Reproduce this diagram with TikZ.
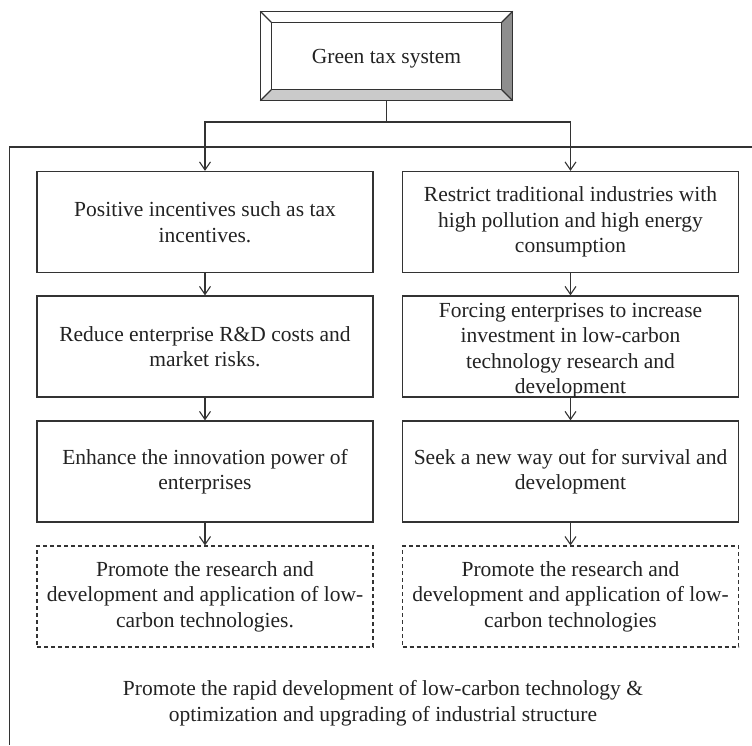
\documentclass[tikz,border=0pt]{standalone}
\usepackage{fontspec}
\setmainfont{Liberation Serif}
\usetikzlibrary{arrows.meta}
\definecolor{ln}{HTML}{333333}
\definecolor{tx}{HTML}{222222}
\definecolor{bevdark}{HTML}{8E8E8E}
\definecolor{bevlight}{HTML}{CACACA}
\begin{document}
\begin{tikzpicture}[x=1pt,y=-1pt,
  line width=1.3pt,
  every node/.style={text=tx, font=\fontsize{21.5}{25.5}\selectfont},
  box/.style={draw=ln, minimum width=336pt, minimum height=101pt, align=center, inner sep=0pt},
  dbox/.style={box, dashed, dash pattern=on 4pt off 3pt, line width=1.1pt},
  arr/.style={draw=ln, -{Straight Barb[length=8pt,width=11pt,line width=1.1pt]}},
]
\useasboundingbox (0,0) rectangle (752,745);
% top bevel box
\node[minimum width=251pt, minimum height=88pt, inner sep=0pt] (top) at (386.5,56) {\raisebox{-3pt}[\height][\depth]{Green tax system}};
\coordinate (o1) at (top.north west);
\coordinate (o2) at (top.north east);
\coordinate (o3) at (top.south east);
\coordinate (o4) at (top.south west);
\coordinate (i1) at ([shift={(11,11)}]top.north west);
\coordinate (i2) at ([shift={(-11,11)}]top.north east);
\coordinate (i3) at ([shift={(-11,-11)}]top.south east);
\coordinate (i4) at ([shift={(11,-11)}]top.south west);
\fill[bevdark] (o2) -- (o3) -- (i3) -- (i2) -- cycle;
\fill[bevlight] (o3) -- (o4) -- (i4) -- (i3) -- cycle;
\draw[ln, line width=1.3pt] (o1) -- (o2) -- (o3) -- (o4) -- cycle;
\draw[ln, line width=1.1pt] (i1) -- (i2) -- (i3) -- (i4) -- cycle;
\draw[ln, line width=1.1pt] (o1) -- (i1) (o2) -- (i2) (o3) -- (i3) (o4) -- (i4);
% outer frame
\coordinate (fr1) at (752,147);
\coordinate (fr2) at (9.5,147);
\coordinate (fr3) at (9.5,745);
\draw[ln] (fr1) -- (fr2) -- (fr3);
% boxes
\node[box] (L1) at (205,222) {Positive incentives such as tax\\incentives.};
\node[box] (L2) at (205,346.5) {Reduce enterprise R\&D costs and\\market risks.};
\node[box] (L3) at (205,471.5) {Enhance the innovation power of\\enterprises};
\node[dbox] (L4) at (205,596.5) {Promote the research and\\development and application of low-\\carbon technologies.};
\node[box] (R1) at (570.5,222) {Restrict traditional industries with\\high pollution and high energy\\consumption};
\node[box] (R2) at (570.5,346.5) {\raisebox{-4pt}[\height][\depth]{\parbox{330pt}{\centering Forcing enterprises to increase\\investment in low-carbon\\technology research and\\development}}};
\node[box] (R3) at (570.5,471.5) {Seek a new way out for survival and\\development};
\node[dbox] (R4) at (570.5,596.5) {Promote the research and\\development and application of low-\\carbon technologies};
\node[align=center, inner sep=0pt] (bot) at (383,703) {Promote the rapid development of low-carbon technology \&\\optimization and upgrading of industrial structure};
% connectors
\coordinate (bus) at (386.5,122);
\draw[ln] (top.south) -- (bus);
\draw[arr] (bus) -| (L1.north);
\draw[arr] (bus) -| (R1.north);
\draw[arr] (L1) -- (L2);
\draw[arr] (L2) -- (L3);
\draw[arr] (L3) -- (L4);
\draw[arr] (R1) -- (R2);
\draw[arr] (R2) -- (R3);
\draw[arr] (R3) -- (R4);
\end{tikzpicture}
\end{document}
